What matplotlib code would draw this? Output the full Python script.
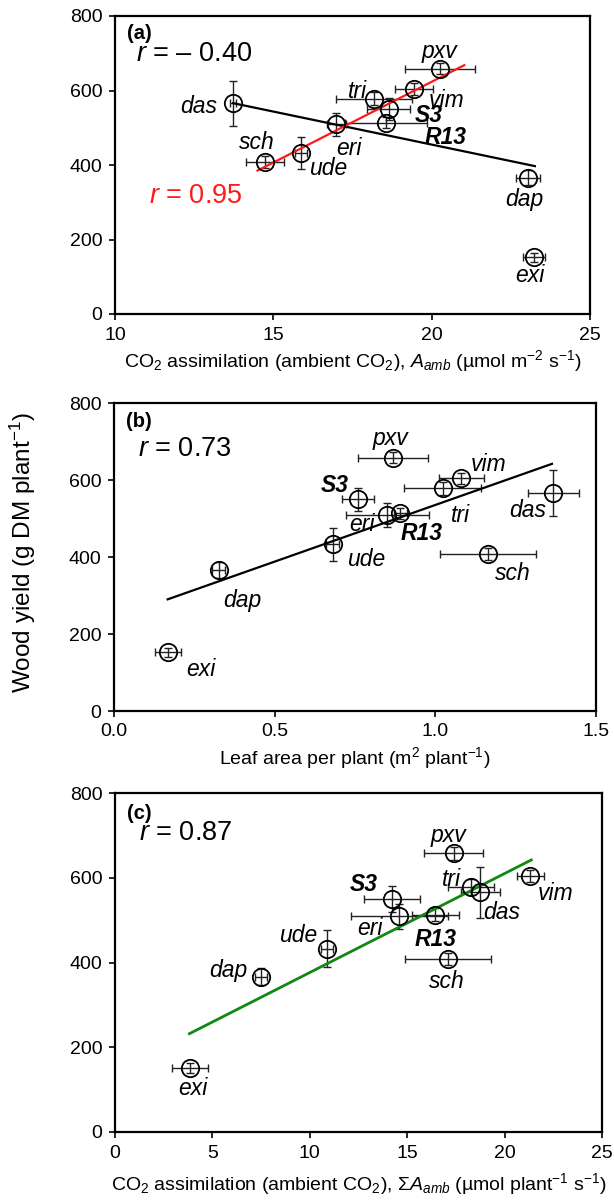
import matplotlib
matplotlib.use("Agg")
import matplotlib.pyplot as plt

plt.rcParams['font.family'] = ['Liberation Sans', 'DejaVu Sans']
plt.rcParams['mathtext.fontset'] = 'custom'
plt.rcParams['mathtext.rm'] = 'Liberation Sans'
plt.rcParams['mathtext.it'] = 'Liberation Sans:italic'
plt.rcParams['mathtext.bf'] = 'Liberation Sans:bold'

# ---------------- data ----------------
species = ['pxv', 'vim', 'tri', 'das', 'S3', 'R13', 'eri', 'ude', 'sch', 'dap', 'exi']
bold_species = ['S3', 'R13']
wood_yield = [658, 604, 578, 566, 550, 513, 509, 433, 408, 366, 152]
wood_yield_err = [15, 15, 18, 60, 30, 15, 30, 43, 15, 20, 12]

a_amb = [20.26, 19.45, 18.18, 13.73, 18.64, 18.56, 16.98, 15.87, 14.74, 23.03, 23.23]
a_amb_err = [1.1, 0.6, 1.2, 0.1, 0.68, 1.3, 0.3, 0.2, 0.6, 0.38, 0.35]

leaf_area = [0.868, 1.080, 1.023, 1.367, 0.758, 0.891, 0.851, 0.680, 1.163, 0.326, 0.167]
leaf_area_err = [0.11, 0.07, 0.12, 0.08, 0.05, 0.02, 0.13, 0.02, 0.15, 0.02, 0.04]

sum_a_amb = [17.38, 21.32, 18.27, 18.75, 14.23, 16.44, 14.59, 10.87, 17.09, 7.50, 3.85]
sum_a_amb_err = [1.5, 0.7, 1.2, 1.0, 1.45, 1.2, 2.5, 0.3, 2.2, 0.3, 0.9]

# regression lines (end points)
fit_a_all_x = [13.73, 23.26]
fit_a_all_y = [566, 397]
fit_a_sub_x = [14.5, 21.03]
fit_a_sub_y = [385, 668]
fit_b_x = [0.167, 1.363]
fit_b_y = [290, 642]
fit_c_x = [3.82, 21.37]
fit_c_y = [232, 642]

r_a_all = '– 0.40'
r_a_sub = '0.95'
r_b = '0.73'
r_c = '0.87'

yticks = [0, 200, 400, 600, 800]
xticks_a = [10, 15, 20, 25]
xticks_b = [0.0, 0.5, 1.0, 1.5]
xticks_c = [0, 5, 10, 15, 20, 25]

# label offsets (points) per panel
off_a = {'pxv': (0, 12.5), 'vim': (23, -8), 'tri': (-12, 5), 'S3': (28.6, -4.5),
         'R13': (43, -10.5), 'eri': (9, -17), 'ude': (19.7, -11.3), 'sch': (-6, 14.4),
         'das': (-24.5, -2.4), 'dap': (-2.4, -15.6), 'exi': (-2.9, -12.7)}
off_b = {'pxv': (-2, 14), 'vim': (20, 10), 'tri': (13, -19.7), 'S3': (-16.6, 10),
         'R13': (15.6, -14.4), 'eri': (-18.5, -6.7), 'ude': (24, -10.8), 'sch': (18.2, -13.9),
         'das': (-18.7, -12.7), 'dap': (17.3, -22), 'exi': (24, -12)}
off_c = {'pxv': (-3.6, 12.5), 'vim': (18, -12.5), 'tri': (-13.7, 5.3), 'S3': (-20.6, 10.3),
         'R13': (0, -18), 'eri': (-21.4, -8.9), 'ude': (-20.4, 9.6), 'sch': (-0.7, -16),
         'das': (15.6, -14.6), 'dap': (-23.5, 4.6), 'exi': (2.4, -15)}

W, H = 614, 1200
fig = plt.figure(figsize=(W / 100, H / 100), dpi=100)


def add_axes(l, t, r, b):
    return fig.add_axes([l / W, 1 - b / H, (r - l) / W, (b - t) / H])


ax_a = add_axes(115, 16, 590, 314)
ax_b = add_axes(114, 403, 596, 711)
ax_c = add_axes(115, 793, 602, 1132)

LABEL_FS = 16.5
TICK_FS = 14
R_FS = 19.5


def draw_panel(ax, x, xerr, offs, xlim, xticks, xfmt, xlabel, tag, labelpad):
    ax.errorbar(x, wood_yield, xerr=xerr, yerr=wood_yield_err, fmt='none',
                ecolor='#222222', elinewidth=1.0, capsize=3, capthick=1.0, zorder=2)
    ax.plot(x, wood_yield, 'o', ms=12.5, mfc='none', mec='black', mew=1.3, zorder=3)
    for sp, xi, yi in zip(species, x, wood_yield):
        dx, dy = offs[sp]
        ax.annotate(sp, (xi, yi), xytext=(dx, dy), textcoords='offset points',
                    ha='center', va='center', fontsize=LABEL_FS, style='italic',
                    fontweight='bold' if sp in bold_species else 'normal', zorder=4)
    ax.set_xlim(*xlim)
    ax.set_ylim(0, 800)
    ax.set_xticks(xticks)
    ax.set_xticklabels([xfmt.format(v) for v in xticks], fontsize=TICK_FS)
    ax.set_yticks(yticks)
    ax.set_yticklabels([str(v) for v in yticks], fontsize=TICK_FS)
    ax.tick_params(direction='out', length=4, width=1.2, pad=5)
    for s in ax.spines.values():
        s.set_linewidth(1.6)
    ax.set_xlabel(xlabel, fontsize=TICK_FS, labelpad=labelpad)
    ax.text(0.025, 0.94, tag, transform=ax.transAxes, fontsize=14.5, fontweight='bold',
            ha='left', va='center')


draw_panel(ax_a, a_amb, a_amb_err, off_a, (10, 25), xticks_a, '{:d}',
           r'CO$_2$ assimilation (ambient CO$_2$), $\mathit{A}_{\mathit{amb}}$ (µmol m$^{-2}$ s$^{-1}$)', '(a)', 3)
ax_a.plot(fit_a_all_x, fit_a_all_y, color='black', lw=1.6, zorder=2.5)
ax_a.plot(fit_a_sub_x, fit_a_sub_y, color='#ff1a1a', lw=1.6, zorder=2.5)
ax_a.text(0.044, 0.872, r'$\mathit{r}$ = ' + r_a_all, transform=ax_a.transAxes,
          fontsize=R_FS, ha='left', va='center')
ax_a.text(0.072, 0.396, r'$\mathit{r}$ = ' + r_a_sub, transform=ax_a.transAxes,
          fontsize=R_FS, ha='left', va='center', color='#ff1a1a')

draw_panel(ax_b, leaf_area, leaf_area_err, off_b, (0, 1.5), xticks_b, '{:.1f}',
           r'Leaf area per plant (m$^{2}$ plant$^{-1}$)', '(b)', 3)
ax_b.plot(fit_b_x, fit_b_y, color='black', lw=1.6, zorder=2.5)
ax_b.text(0.050, 0.852, r'$\mathit{r}$ = ' + r_b, transform=ax_b.transAxes,
          fontsize=R_FS, ha='left', va='center')

draw_panel(ax_c, sum_a_amb, sum_a_amb_err, off_c, (0, 25), xticks_c, '{:d}',
           r'CO$_2$ assimilation (ambient CO$_2$), $\mathit{ΣA}_{\mathit{amb}}$ (µmol plant$^{-1}$ s$^{-1}$)', '(c)', 7)
ax_c.plot(fit_c_x, fit_c_y, color='#118811', lw=2.0, zorder=2.5)
ax_c.text(0.050, 0.882, r'$\mathit{r}$ = ' + r_c, transform=ax_c.transAxes,
          fontsize=R_FS, ha='left', va='center')

fig.text(23 / W, 1 - 553 / H, r'Wood yield (g DM plant$^{-1}$)', rotation=90,
         ha='center', va='center', fontsize=17.5)

fig.savefig('out.png', dpi=100)
